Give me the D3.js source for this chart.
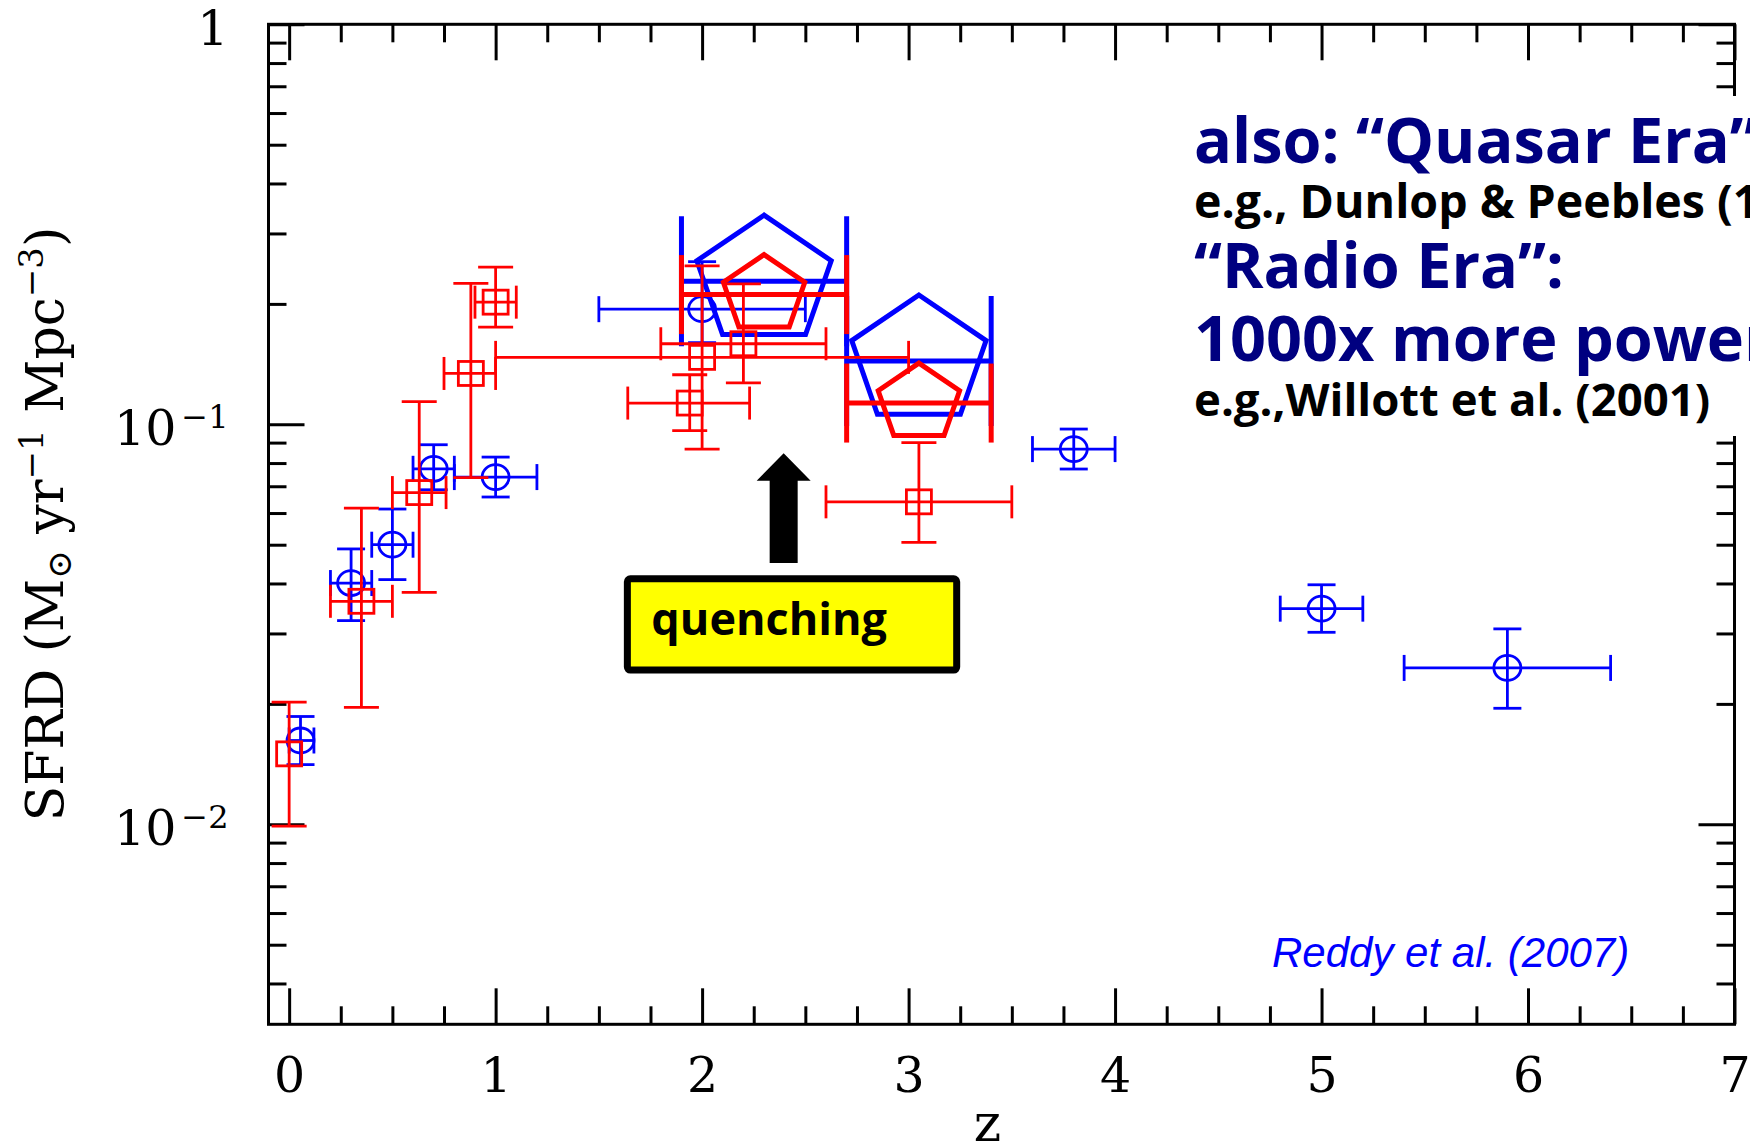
<!DOCTYPE html>
<html><head><meta charset="utf-8">
<script src="https://cdn.jsdelivr.net/npm/d3@7"></script>
<style>html,body{margin:0;padding:0;background:#fff}svg{display:block}</style>
</head><body><svg id="chart"></svg>
<script>
// Cosmic star-formation-rate density vs redshift

// Reddy et al. (2007) compilation, blue circles
const blueZ     = [0.055, 0.30, 0.50, 0.70, 1.00, 2.00, 3.80, 5.00, 5.90];
const blueZlo   = [0.000, 0.20, 0.40, 0.60, 0.80, 1.50, 3.60, 4.80, 5.40];
const blueZhi   = [0.120, 0.40, 0.60, 0.80, 1.20, 2.50, 4.00, 5.20, 6.40];
const blueSFRD  = [0.0162, 0.0401, 0.0500, 0.0774, 0.0738, 0.194, 0.0867, 0.0346, 0.0246];
const blueLo    = [0.0141, 0.0323, 0.0409, 0.0686, 0.0658, 0.160, 0.0773, 0.0302, 0.0195];
const blueHi    = [0.0186, 0.0488, 0.0614, 0.0889, 0.0828, 0.255, 0.0973, 0.0397, 0.0308];

// red squares
const redZ      = [0.00, 0.35, 0.63, 0.88, 1.00, 1.94, 2.00, 2.20, 3.05];
const redZlo    = [0.00, 0.20, 0.50, 0.75, 0.90, 1.64, 1.00, 1.80, 2.60];
const redZhi    = [0.00, 0.50, 0.76, 1.00, 1.10, 2.23, 3.00, 2.60, 3.50];
const redSFRD   = [0.0150, 0.0361, 0.0675, 0.134, 0.202, 0.113, 0.147, 0.159, 0.064];
const redLo     = [0.0099, 0.0196, 0.0380, 0.0736, 0.175, 0.0964, 0.0867, 0.127, 0.0507];
const redHi     = [0.0202, 0.0617, 0.1140, 0.2250, 0.247, 0.1330, 0.2490, 0.2245, 0.0900];

// binned pentagon points (same redshift bins for both colours)
const binZ      = [2.30, 3.05];
const binZlo    = [1.90, 2.70];
const binZhi    = [2.70, 3.40];
const blueBin   = [0.228, 0.144];
const redBin    = [0.211, 0.113];

// axis ticks
const xMajor = [0, 1, 2, 3, 4, 5, 6, 7];
const yMajor = [1, 0.1, 0.01];
const yLabels = [["1", ""], ["10", "\u22121"], ["10", "\u22122"]];

const W = 1750, H = 1148;
const svg = d3.select("#chart").attr("width", W).attr("height", H);

const x = d3.scaleLinear().domain([-0.1, 7]).range([268.5, 1734.5]);
const y = d3.scaleLog().domain([Math.pow(10, -2.5), 1]).range([1024.3, 24.3]);

const xMinor = d3.range(-0.0, 7, 0.25).filter(v => Math.abs(v - Math.round(v)) > 1e-6);
const yMinor = [];
[0.001, 0.01, 0.1].forEach(d => { for (let k = 2; k <= 9; k++) { const v = k * d; if (v >= y.domain()[0] && v < 1) yMinor.push(v); } });

const serif = "'DejaVu Serif', serif";
const MAJ = 36, MIN = 18;
const [x0, x1] = x.range(), [y0, y1] = y.range();

function styleAxis(g) {
  g.select(".domain").remove();
  g.selectAll(".tick line").attr("stroke", "#000").attr("stroke-width", 3);
}

// ticks on all four sides, pointing inward
svg.append("g").attr("transform", `translate(0,${y0})`)
  .call(d3.axisBottom(x).tickValues(xMinor).tickSize(-MIN).tickFormat(""))
  .call(styleAxis);
const xAx = svg.append("g").attr("transform", `translate(0,${y0})`)
  .call(d3.axisBottom(x).tickValues(xMajor).tickSize(-MAJ).tickPadding(33).tickFormat(d3.format("d")))
  .call(styleAxis);
xAx.selectAll(".tick text").attr("font-family", serif).attr("font-size", 49).attr("fill", "#000");

svg.append("g").attr("transform", `translate(0,${y1})`)
  .call(d3.axisTop(x).tickValues(xMinor).tickSize(-MIN).tickFormat(""))
  .call(styleAxis);
svg.append("g").attr("transform", `translate(0,${y1})`)
  .call(d3.axisTop(x).tickValues(xMajor).tickSize(-MAJ).tickFormat(""))
  .call(styleAxis);

svg.append("g").attr("transform", `translate(${x0},0)`)
  .call(d3.axisLeft(y).tickValues(yMinor).tickSize(-MIN).tickFormat(""))
  .call(styleAxis);
const yAx = svg.append("g").attr("transform", `translate(${x0},0)`)
  .call(d3.axisLeft(y).tickValues(yMajor).tickSize(-MAJ).tickPadding(40).tickFormat(""))
  .call(styleAxis);
yAx.selectAll(".tick text")
  .attr("font-family", serif).attr("font-size", 49).attr("fill", "#000").attr("dy", "0.42em")
  .each(function (d, i) {
    const t = d3.select(this);
    t.append("tspan").text(yLabels[i][0]);
    if (yLabels[i][1]) t.append("tspan").attr("font-size", 32).attr("dy", -17).attr("dx", 5).text(yLabels[i][1]);
  });

svg.append("g").attr("transform", `translate(${x1},0)`)
  .call(d3.axisRight(y).tickValues(yMinor).tickSize(-MIN).tickFormat(""))
  .call(styleAxis);
svg.append("g").attr("transform", `translate(${x1},0)`)
  .call(d3.axisRight(y).tickValues(yMajor).tickSize(-MAJ).tickFormat(""))
  .call(styleAxis);

// frame
svg.append("rect").attr("x", x0).attr("y", y1).attr("width", x1 - x0).attr("height", y0 - y1)
  .attr("fill", "none").attr("stroke", "#000").attr("stroke-width", 3);

// axis titles
svg.append("text").attr("x", (x0 + x1) / 2 - 14).attr("y", 1141)
  .attr("text-anchor", "middle").attr("font-family", serif).attr("font-size", 52).text("z");

const yt = svg.append("text").attr("transform", "translate(63,524) rotate(-90)")
  .attr("text-anchor", "middle").attr("font-family", serif).attr("font-size", 52);
yt.append("tspan").text("SFRD (M");
yt.append("tspan").attr("font-size", 34).attr("dy", 8).text("\u2299");
yt.append("tspan").attr("dy", -8).text(" yr");
yt.append("tspan").attr("font-size", 34).attr("dy", -20).text("\u22121");
yt.append("tspan").attr("dy", 20).text(" Mpc");
yt.append("tspan").attr("font-size", 34).attr("dy", -20).text("\u22123");
yt.append("tspan").attr("dy", 20).text(")");

// error bars with caps
function errorBars(g, pts, color, lw, capW, capH) {
  pts.forEach(p => {
    const cx = x(p.z), cy = y(p.v);
    const xl = x(p.zlo), xh = x(p.zhi);
    if (xh - xl > 1) {
      g.append("line").attr("x1", xl).attr("x2", xh).attr("y1", cy).attr("y2", cy);
      [xl, xh].forEach(xx => g.append("line").attr("x1", xx).attr("x2", xx).attr("y1", cy - capH).attr("y2", cy + capH));
    }
    if (p.lo != null) {
      const yl = y(p.lo), yh = y(p.hi);
      g.append("line").attr("x1", cx).attr("x2", cx).attr("y1", yl).attr("y2", yh);
      [yl, yh].forEach(yy => g.append("line").attr("x1", cx - capW).attr("x2", cx + capW).attr("y1", yy).attr("y2", yy));
    }
  });
  g.attr("stroke", color).attr("stroke-width", lw).attr("fill", "none");
}

const blue = blueZ.map((z, i) => ({ z, zlo: blueZlo[i], zhi: blueZhi[i], v: blueSFRD[i], lo: blueLo[i], hi: blueHi[i] }));
const red = redZ.map((z, i) => ({ z, zlo: redZlo[i], zhi: redZhi[i], v: redSFRD[i], lo: redLo[i], hi: redHi[i] }));
const binsBlue = binZ.map((z, i) => ({ z, zlo: binZlo[i], zhi: binZhi[i], v: blueBin[i], lo: null }));
const binsRed = binZ.map((z, i) => ({ z, zlo: binZlo[i], zhi: binZhi[i], v: redBin[i], lo: null }));

function pentagon(cx, cy, R, sx) {
  const pts = d3.range(5).map(k => {
    const a = (-90 + 72 * k) * Math.PI / 180;
    return [cx + sx * R * Math.cos(a), cy + R * Math.sin(a)];
  });
  return "M" + pts.map(p => p.join(",")).join("L") + "Z";
}

// blue circles
const gB = svg.append("g");
errorBars(gB.append("g"), blue, "#0000ff", 2.8, 14, 13);
gB.selectAll("ellipse").data(blue).join("ellipse")
  .attr("cx", d => x(d.z)).attr("cy", d => y(d.v)).attr("rx", 13.5).attr("ry", 12.5)
  .attr("fill", "none").attr("stroke", "#0000ff").attr("stroke-width", 2.8);

// blue binned pentagons
const gBP = svg.append("g");
errorBars(gBP.append("g"), binsBlue, "#0000ff", 5, 0, 65);
gBP.selectAll("path.pent").data(binsBlue).join("path").attr("class", "pent")
  .attr("d", d => pentagon(x(d.z), y(d.v), 66, 1.07))
  .attr("fill", "none").attr("stroke", "#0000ff").attr("stroke-width", 5).attr("stroke-linejoin", "miter");

// red squares
const gR = svg.append("g");
errorBars(gR.append("g"), red, "#ff0000", 2.8, 17.5, 16.5);
gR.selectAll("rect").data(red).join("rect")
  .attr("x", d => x(d.z) - 12.5).attr("y", d => y(d.v) - 12).attr("width", 25).attr("height", 24)
  .attr("fill", "none").attr("stroke", "#ff0000").attr("stroke-width", 2.8);

// red binned pentagons
const gRP = svg.append("g");
errorBars(gRP.append("g"), binsRed, "#ff0000", 5, 0, 39.5);
gRP.selectAll("path.pent").data(binsRed).join("path").attr("class", "pent")
  .attr("d", d => pentagon(x(d.z), y(d.v), 40, 1.07))
  .attr("fill", "none").attr("stroke", "#ff0000").attr("stroke-width", 5);

// quenching arrow and label box
const ax = x(2.395), aTip = y(0.0847), aBase = y(0.045);
svg.append("path")
  .attr("d", `M${ax},${aTip} L${ax + 27},${aTip + 27.5} L${ax + 14},${aTip + 27.5} L${ax + 14},${aBase} L${ax - 14},${aBase} L${ax - 14},${aTip + 27.5} L${ax - 27},${aTip + 27.5} Z`)
  .attr("fill", "#000");
const bx0 = x(1.638), bx1 = x(3.233), by0 = y(0.0411), by1 = y(0.0243);
svg.append("rect").attr("x", bx0).attr("y", by0).attr("width", bx1 - bx0).attr("height", by1 - by0)
  .attr("rx", 3).attr("fill", "#ffff00").attr("stroke", "#000").attr("stroke-width", 7);
svg.append("text").attr("x", bx0 + 24).attr("y", by0 + 56)
  .attr("font-family", "'Open Sans', sans-serif").attr("font-weight", "bold").attr("font-size", 45)
  .attr("fill", "#000").text("quenching");

// radio-era note (white backing over the right frame; runs off the right edge)
svg.append("rect").attr("x", 1186).attr("y", 96).attr("width", W - 1186).attr("height", 340).attr("fill", "#fff");
const notes = [
  { t: "also: \u201cQuasar Era\u201d", y: 163, size: 63, c: "#000080" },
  { t: "e.g., Dunlop & Peebles (1990)", y: 218, size: 46.5, c: "#000" },
  { t: "\u201cRadio Era\u201d:", y: 288, size: 63, c: "#000080" },
  { t: "1000x more powerful", y: 361, size: 63, c: "#000080" },
  { t: "e.g.,Willott et al. (2001)", y: 416, size: 45.5, c: "#000" }
];
svg.append("g").selectAll("text").data(notes).join("text")
  .attr("x", 1194).attr("y", d => d.y).attr("font-family", "'Open Sans', sans-serif")
  .attr("font-weight", "bold").attr("font-size", d => d.size).attr("fill", d => d.c).text(d => d.t);

svg.append("text").attr("x", 1272).attr("y", 967)
  .attr("font-family", "'Liberation Sans', Arial, sans-serif").attr("font-style", "italic")
  .attr("font-size", 42).attr("fill", "#0000ff").text("Reddy et al. (2007)");
</script>
</body></html>
